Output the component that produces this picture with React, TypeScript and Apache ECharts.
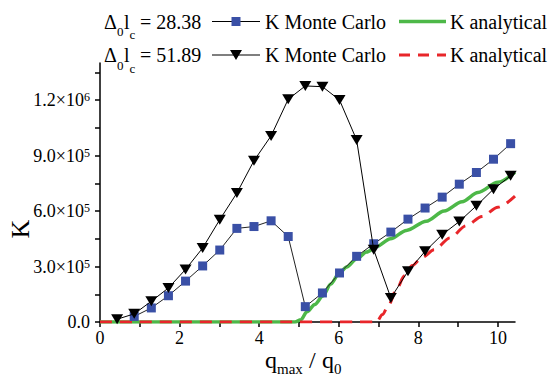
import React, { useEffect, useRef } from "react";
import * as echarts from "echarts";

// Monte Carlo sample positions (q_max / q0)
const X_MC = [0.43, 0.86, 1.29, 1.72, 2.15, 2.58, 3.01, 3.44, 3.87, 4.3, 4.73, 5.16, 5.59, 6.02, 6.45, 6.88, 7.31, 7.74, 8.17, 8.6, 9.03, 9.46, 9.89, 10.32];

// Δ0lc = 28.38, K Monte Carlo (blue squares), starts at second sample
const X_MC_A = X_MC.slice(1);
const K_MC_A = [30000, 76000, 142000, 221000, 303000, 389000, 506000, 516000, 547000, 462000, 83000, 157000, 265000, 355000, 423000, 486000, 556000, 616000, 675000, 745000, 808000, 880000, 964000];

// Δ0lc = 51.89, K Monte Carlo (black triangles)
const K_MC_B = [15000, 44000, 112000, 184000, 284000, 400000, 553000, 697000, 872000, 1006000, 1204000, 1276000, 1272000, 1200000, 984000, 390000, 130000, 274000, 382000, 472000, 543000, 628000, 718000, 790000];

// Δ0lc = 28.38, K analytical (green)
const X_AN_A = [0, 4.9, 5.05, 5.2, 5.4, 5.6, 5.8, 6.0, 6.2, 6.45, 6.7, 6.95, 7.3, 7.7, 8.2, 8.65, 9.1, 9.5, 10.0, 10.43];
const K_AN_A = [0, 0, 12000, 55000, 95000, 140000, 205000, 260000, 297000, 342000, 378000, 408000, 450000, 495000, 545000, 600000, 650000, 700000, 755000, 810000];

// Δ0lc = 51.89, K analytical (red dashed)
const X_AN_B = [0, 6.95, 7.1, 7.25, 7.45, 7.65, 7.85, 8.1, 8.4, 8.8, 9.2, 9.6, 10.0, 10.43];
const K_AN_B = [0, 0, 40000, 90000, 175000, 250000, 305000, 350000, 390000, 455000, 520000, 570000, 620000, 680000];

// Axis ticks and labels
const X_TICKS = [0, 1, 2, 3, 4, 5, 6, 7, 8, 9, 10];
const X_LABELS = [0, 2, 4, 6, 8, 10];
const Y_TICKS = [0, 150000, 300000, 450000, 600000, 750000, 900000, 1050000, 1200000, 1350000];
const Y_LABELS = [0, 300000, 600000, 900000, 1200000];

// Legend texts
const DELTA_A = "= 28.38";
const DELTA_B = "= 51.89";
const MC_LABEL = "K Monte Carlo";
const AN_LABEL = "K analytical";

const FONT = "Liberation Serif";
const BLUE = "#3a50a6";
const GREEN = "#4db848";
const RED = "#e8262a";

const zip = (xs: number[], ys: number[]) => xs.map((x, i) => [x, ys[i]]);

function txt(text: string, x: number, y: number, size: number, extra: any = {}) {
  const { style, ...rest } = extra;
  return {
    type: "text",
    x,
    y,
    silent: true,
    ...rest,
    style: {
      text,
      fill: "#000",
      fontSize: size,
      fontFamily: FONT,
      align: "left",
      verticalAlign: "middle",
      ...(style || {}),
    },
  };
}

function legendRow(y: number, delta: string, kind: "square" | "triangle", dashed: boolean) {
  const els: any[] = [];
  els.push(txt("Δ", 104, y, 20));
  els.push(txt("0", 117, y + 10, 13));
  els.push(txt("l", 124, y, 20));
  els.push(txt("c", 129.5, y + 13, 13));
  els.push(txt(delta, 140, y, 20));
  els.push({
    type: "line",
    silent: true,
    shape: { x1: 212, y1: y, x2: 260, y2: y },
    style: { stroke: "#000", lineWidth: 1.2 },
  });
  if (kind === "square") {
    els.push({
      type: "rect",
      silent: true,
      shape: { x: 231.5, y: y - 4.5, width: 9, height: 9 },
      style: { fill: BLUE },
    });
  } else {
    els.push({
      type: "polygon",
      silent: true,
      shape: { points: [[230, y - 5], [242, y - 5], [236, y + 5]] },
      style: { fill: "#000" },
    });
  }
  els.push(txt(MC_LABEL, 265, y, 20));
  els.push({
    type: "line",
    silent: true,
    shape: { x1: 399, y1: y, x2: 446, y2: y },
    style: dashed
      ? { stroke: RED, lineWidth: 3, lineDash: [11, 8] }
      : { stroke: GREEN, lineWidth: 3.5 },
  });
  els.push(txt(AN_LABEL, 450, y, 20));
  return els;
}

export default function App() {
  const ref = useRef<HTMLDivElement>(null);

  useEffect(() => {
    if (!ref.current) return;
    const chart = echarts.init(ref.current, null, { renderer: "svg" });

    const yFmt = (v: number) => {
      if (v === 0) return "0.0";
      const e = Math.floor(Math.log10(v) + 1e-9);
      const m = v / Math.pow(10, e);
      return `${m.toFixed(1)}×10{sup|${e}}`;
    };

    const option: any = {
      animation: false,
      backgroundColor: "#fff",
      textStyle: { fontFamily: FONT },
      grid: { left: 100, right: 40, top: 63, bottom: 57, containLabel: false, outerBoundsMode: "none" },
      xAxis: {
        type: "value",
        min: 0,
        max: 10.43,
        interval: 1,
        splitLine: { show: false },
        axisLine: { onZero: false, lineStyle: { color: "#000", width: 1.5 } },
        axisTick: { show: true, length: 5, lineStyle: { color: "#000", width: 1.5 }, customValues: X_TICKS },
        axisLabel: {
          customValues: X_LABELS,
          formatter: (v: number) => `${v}`,
          color: "#000",
          fontFamily: FONT,
          fontSize: 18,
          margin: 7,
        },
      },
      yAxis: {
        type: "value",
        min: 0,
        max: 1400000,
        interval: 150000,
        splitLine: { show: false },
        axisLine: { show: true, lineStyle: { color: "#000", width: 1.5 } },
        axisTick: { show: true, length: 5, lineStyle: { color: "#000", width: 1.5 }, customValues: Y_TICKS },
        axisLabel: {
          customValues: Y_LABELS,
          formatter: yFmt,
          color: "#000",
          fontFamily: FONT,
          fontSize: 18,
          margin: 10,
          rich: {
            sup: { fontSize: 12, fontFamily: FONT, color: "#000", verticalAlign: "top", lineHeight: 12 },
          },
        },
      },
      series: [
        {
          name: "K analytical A",
          type: "line",
          data: zip(X_AN_A, K_AN_A),
          showSymbol: false,
          smooth: 0.3,
          smoothMonotone: "x",
          lineStyle: { color: GREEN, width: 3.5 },
          silent: true,
          z: 2,
        },
        {
          name: "K analytical B",
          type: "line",
          data: zip(X_AN_B, K_AN_B),
          showSymbol: false,
          smooth: 0.3,
          smoothMonotone: "x",
          lineStyle: { color: RED, width: 3, type: [12, 8] },
          silent: true,
          z: 3,
        },
        {
          name: "K Monte Carlo A",
          type: "line",
          data: zip(X_MC_A, K_MC_A),
          symbol: "rect",
          symbolSize: 9,
          showAllSymbol: true,
          itemStyle: { color: BLUE },
          lineStyle: { color: "#222", width: 1 },
          silent: true,
          z: 4,
        },
        {
          name: "K Monte Carlo B",
          type: "line",
          data: zip(X_MC, K_MC_B),
          symbol: "triangle",
          symbolRotate: 180,
          symbolSize: [12, 10],
          showAllSymbol: true,
          itemStyle: { color: "#000" },
          lineStyle: { color: "#000", width: 1 },
          silent: true,
          z: 5,
        },
      ],
      graphic: [
        ...legendRow(21.5, DELTA_A, "square", false),
        ...legendRow(55, DELTA_B, "triangle", true),
        // x axis title: q_max / q_0
        txt("q", 265, 360, 24),
        txt("max", 277, 369, 15),
        txt("/", 309, 360, 24),
        txt("q", 322, 360, 24),
        txt("0", 334, 369, 15),
        // y axis title
        txt("K", 20, 229, 26, { rotation: Math.PI / 2, style: { align: "center" } }),
      ],
    };

    chart.setOption(option);
    return () => chart.dispose();
  }, []);

  return (
    <div
      ref={ref}
      style={{ position: "fixed", left: 0, top: 0, width: 555, height: 379, background: "#fff" }}
    />
  );
}
